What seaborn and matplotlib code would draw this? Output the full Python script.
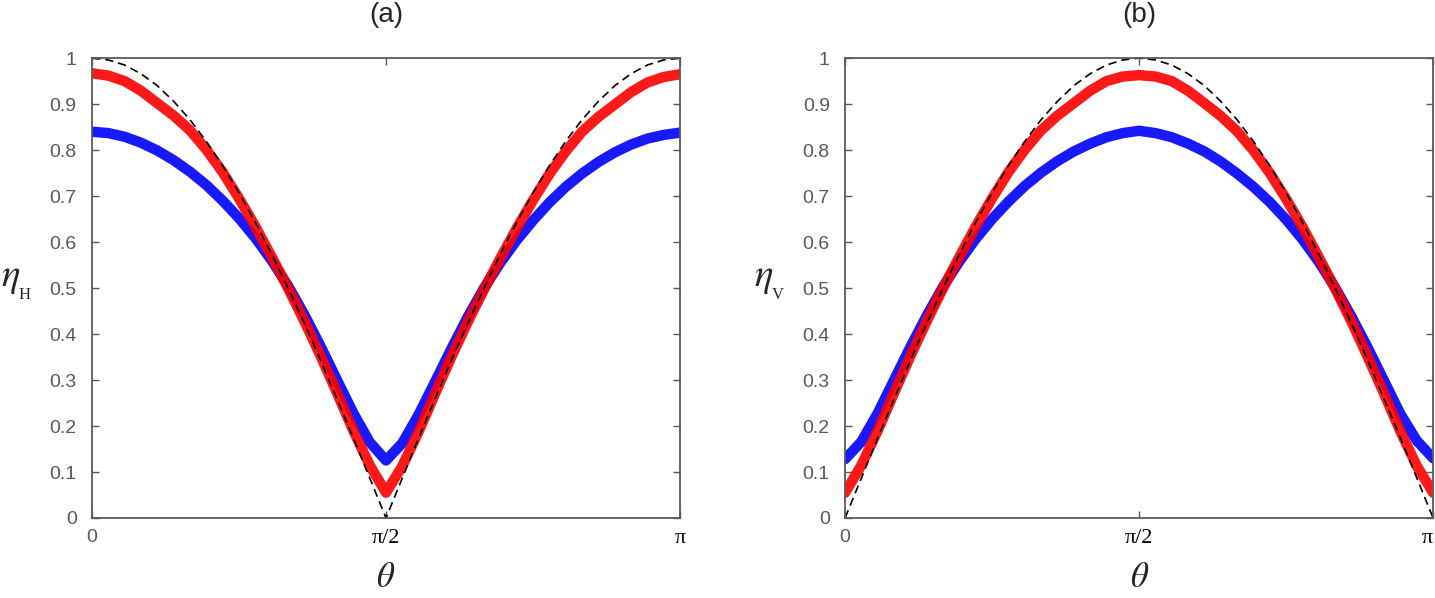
import matplotlib
matplotlib.use('Agg')
import matplotlib.pyplot as plt
import seaborn as sns
import pandas as pd

# theta sampled every 5 degrees, 0 .. 180 (0 .. pi)
theta = list(range(0, 181, 5))

# panel (a): eta_H
blue_a = [0.840, 0.837, 0.829, 0.816, 0.799, 0.778, 0.753, 0.724, 0.690, 0.652,
          0.609, 0.560, 0.505, 0.442, 0.373, 0.300, 0.228, 0.165, 0.125,
          0.163, 0.225, 0.296, 0.368, 0.437, 0.500, 0.555, 0.604, 0.647,
          0.686, 0.720, 0.749, 0.774, 0.795, 0.812, 0.825, 0.833, 0.838]
red_a = [0.967, 0.962, 0.950, 0.929, 0.902, 0.875, 0.843, 0.801, 0.752, 0.695,
         0.634, 0.568, 0.500, 0.428, 0.352, 0.272, 0.190, 0.115, 0.055,
         0.113, 0.188, 0.270, 0.350, 0.426, 0.497, 0.565, 0.630, 0.691,
         0.748, 0.797, 0.840, 0.872, 0.899, 0.926, 0.947, 0.959, 0.965]
ideal_a = [1.000, 0.996, 0.985, 0.966, 0.940, 0.906, 0.866, 0.819, 0.766, 0.707,
           0.643, 0.574, 0.500, 0.423, 0.342, 0.259, 0.174, 0.087, 0.000,
           0.087, 0.174, 0.259, 0.342, 0.423, 0.500, 0.574, 0.643, 0.707,
           0.766, 0.819, 0.866, 0.906, 0.940, 0.966, 0.985, 0.996, 1.000]

# panel (b): eta_V
blue_b = [0.128, 0.166, 0.228, 0.300, 0.372, 0.440, 0.503, 0.558, 0.607, 0.650,
          0.688, 0.722, 0.751, 0.776, 0.797, 0.814, 0.828, 0.837, 0.842,
          0.837, 0.828, 0.814, 0.797, 0.775, 0.749, 0.720, 0.687, 0.649,
          0.606, 0.557, 0.501, 0.438, 0.370, 0.298, 0.226, 0.168, 0.130]
red_b = [0.055, 0.115, 0.190, 0.272, 0.352, 0.428, 0.500, 0.568, 0.634, 0.695,
         0.752, 0.801, 0.843, 0.875, 0.902, 0.929, 0.950, 0.960, 0.963,
         0.960, 0.950, 0.929, 0.902, 0.874, 0.841, 0.799, 0.750, 0.694,
         0.633, 0.567, 0.499, 0.427, 0.350, 0.270, 0.188, 0.113, 0.055]
ideal_b = [0.000, 0.087, 0.174, 0.259, 0.342, 0.423, 0.500, 0.574, 0.643, 0.707,
           0.766, 0.819, 0.866, 0.906, 0.940, 0.966, 0.985, 0.996, 1.000,
           0.996, 0.985, 0.966, 0.940, 0.906, 0.866, 0.819, 0.766, 0.707,
           0.643, 0.574, 0.500, 0.423, 0.342, 0.259, 0.174, 0.087, 0.000]

x_ticks = [0, 90, 180]
x_labels = ['0', 'π/2', 'π']
y_ticks = [0, 0.1, 0.2, 0.3, 0.4, 0.5, 0.6, 0.7, 0.8, 0.9, 1]
y_labels = ['0', '0.1', '0.2', '0.3', '0.4', '0.5', '0.6', '0.7', '0.8', '0.9', '1']

sns.set_style('ticks')
plt.rcParams['font.family'] = ['Liberation Sans', 'DejaVu Sans']
plt.rcParams['mathtext.fontset'] = 'stix'

GREY = '#595959'


def draw_panel(ax, blue, red, ideal, title, sub, pi_right=False):
    n = len(theta)
    df = pd.DataFrame({'theta': theta + theta,
                       'eta': blue + red,
                       'series': ['blue'] * n + ['red'] * n})
    sns.lineplot(data=df, x='theta', y='eta', hue='series',
                 palette={'blue': '#0000ff', 'red': '#ff0000'},
                 estimator=None, sort=False, lw=7.5, alpha=0.9,
                 legend=False, ax=ax)
    sns.lineplot(x=theta, y=ideal, color='black', lw=1.2,
                 linestyle=(0, (5, 3)), estimator=None, sort=False,
                 ax=ax, clip_on=False)

    ax.set_xlim(0, 180)
    ax.set_ylim(0, 1)
    ax.set_xticks(x_ticks)
    ax.set_xticklabels(x_labels)
    ax.set_yticks(y_ticks)
    ax.set_yticklabels(y_labels)
    ax.tick_params(direction='in', top=True, right=True, length=5, width=1,
                   color=GREY, labelcolor=GREY, labelsize=14)
    ax.tick_params(axis='x', pad=8)
    ax.tick_params(axis='y', pad=11)
    for lbl in ax.get_xticklabels()[1:]:
        lbl.set_family('Liberation Serif')
        lbl.set_color('black')
        lbl.set_fontsize(16)
    if pi_right:
        ax.get_xticklabels()[-1].set_ha('right')
    for s in ax.spines.values():
        s.set_color(GREY)
        s.set_linewidth(1.3)

    ax.set_xlabel('')
    ax.set_ylabel('')
    ax.text(0.5, -0.13, r'$\theta$', transform=ax.transAxes,
            ha='center', va='center', fontsize=25)
    ax.text(-0.139, 0.522, r'$\eta$', transform=ax.transAxes,
            ha='center', va='center', fontsize=28)
    ax.text(-0.114, 0.484, sub, transform=ax.transAxes, ha='center',
            va='center', fontsize=12, family='Liberation Serif')
    ax.text(0.5, 1.093, title, transform=ax.transAxes,
            ha='center', va='center', fontsize=20)


fig = plt.figure(figsize=(14.35, 5.98), dpi=100)
ax_a = fig.add_axes([0.0641, 0.1338, 0.4098, 0.769])
ax_b = fig.add_axes([0.5889, 0.1338, 0.4098, 0.769])

draw_panel(ax_a, blue_a, red_a, ideal_a, '(a)', 'H')
draw_panel(ax_b, blue_b, red_b, ideal_b, '(b)', 'V', pi_right=True)

fig.savefig('out.png', dpi=100)
